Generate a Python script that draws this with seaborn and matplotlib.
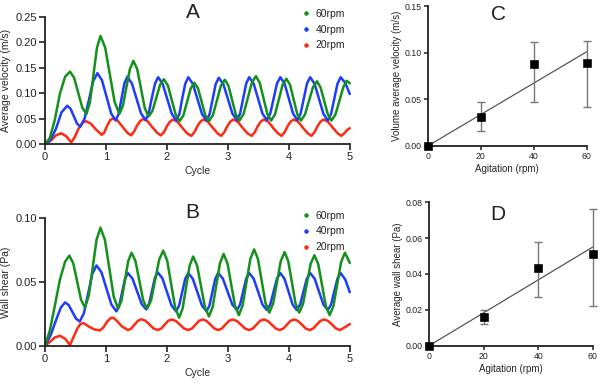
import numpy as np
import pandas as pd
import matplotlib
matplotlib.use("Agg")
import matplotlib.pyplot as plt
from matplotlib.lines import Line2D
import seaborn as sns

# ---------------- data ----------------
labels = ["60rpm", "40rpm", "20rpm"]
colors = ["#14911a", "#1e3cff", "#ff2a12"]

# Panel A: average velocity (m/s) vs cycle
vel60_x = [0, 0.08, 0.16, 0.245, 0.33, 0.41, 0.4775, 0.545, 0.6125, 0.68, 0.7375, 0.795, 0.8525, 0.91,
           0.9875, 1.065, 1.1425, 1.22, 1.2775, 1.335, 1.3925, 1.45, 1.5125, 1.575, 1.6375, 1.70,
           1.7625, 1.825, 1.8875, 1.95, 2.015, 2.08, 2.145, 2.21, 2.27, 2.33, 2.39, 2.45, 2.51, 2.57,
           2.63, 2.69, 2.755, 2.82, 2.885, 2.95, 3.01, 3.07, 3.13, 3.19, 3.2575, 3.325, 3.3925, 3.46,
           3.5225, 3.585, 3.6475, 3.71, 3.7725, 3.835, 3.8975, 3.96, 4.02, 4.08, 4.14, 4.20, 4.265,
           4.33, 4.395, 4.46, 4.52, 4.58, 4.64, 4.70, 4.765, 4.83, 4.895, 4.95, 5.0]
vel60_y = [0, 0.012, 0.047, 0.099, 0.132, 0.142, 0.130, 0.1005, 0.071, 0.059, 0.082, 0.1355, 0.189, 0.212,
           0.189, 0.1355, 0.082, 0.059, 0.075, 0.111, 0.147, 0.163, 0.147, 0.1085, 0.070, 0.054,
           0.065, 0.0905, 0.116, 0.127, 0.115, 0.086, 0.057, 0.045, 0.056, 0.0825, 0.109, 0.120, 0.109, 0.0825,
           0.056, 0.045, 0.057, 0.0855, 0.114, 0.126, 0.114, 0.086, 0.058, 0.046, 0.059, 0.0895, 0.120, 0.133,
           0.120, 0.0895, 0.059, 0.046, 0.058, 0.087, 0.116, 0.128, 0.116, 0.087, 0.058, 0.046, 0.058,
           0.0845, 0.111, 0.123, 0.111, 0.0845, 0.058, 0.046, 0.058, 0.085, 0.112, 0.124, 0.119]

vel40_x = [0, 0.09, 0.18, 0.27, 0.365, 0.419, 0.4725, 0.526, 0.58, 0.65, 0.72, 0.79, 0.86, 0.935, 1.01,
           1.085, 1.16, 1.2075, 1.255, 1.3025, 1.35, 1.425, 1.5, 1.575, 1.65, 1.70, 1.75, 1.805, 1.855,
           1.93, 2.005, 2.08, 2.155, 2.205, 2.25, 2.30, 2.35, 2.425, 2.50, 2.575, 2.65, 2.70, 2.75, 2.80,
           2.85, 2.925, 3.0, 3.075, 3.15, 3.20, 3.25, 3.30, 3.35, 3.4225, 3.495, 3.5675, 3.64, 3.695,
           3.75, 3.805, 3.86, 3.93, 4.0, 4.07, 4.14, 4.1925, 4.245, 4.2975, 4.35, 4.4225, 4.495, 4.5675,
           4.64, 4.6925, 4.745, 4.7975, 4.85, 4.925, 5.0]
vel40_y = [0, 0.008, 0.030, 0.062, 0.075, 0.069, 0.0545, 0.040, 0.034, 0.050, 0.0865, 0.123, 0.139, 0.125, 0.0925,
           0.060, 0.046, 0.059, 0.089, 0.119, 0.132, 0.119, 0.0895, 0.060, 0.047, 0.0595, 0.089, 0.1185, 0.131,
           0.118, 0.0885, 0.059, 0.046, 0.059, 0.0885, 0.118, 0.131, 0.118, 0.0885, 0.059, 0.046, 0.0585, 0.088, 0.1175,
           0.130, 0.1175, 0.0885, 0.0595, 0.047, 0.0595, 0.089, 0.1185, 0.131, 0.1185, 0.089, 0.0595, 0.047, 0.0595,
           0.089, 0.1185, 0.131, 0.1185, 0.089, 0.0595, 0.047, 0.0595, 0.089, 0.1185, 0.131, 0.118, 0.0885, 0.059,
           0.046, 0.059, 0.0885, 0.118, 0.131, 0.120, 0.098]

vel20_x = [0, 0.09, 0.18, 0.27, 0.35, 0.43, 0.49, 0.55, 0.61, 0.67, 0.75, 0.84, 0.93, 0.97, 1.02, 1.07, 1.12,
           1.19, 1.27, 1.35, 1.41, 1.46, 1.51, 1.56, 1.61, 1.68, 1.76, 1.84, 1.90, 1.95, 2.00, 2.05, 2.10,
           2.17, 2.25, 2.33, 2.40, 2.45, 2.50, 2.55, 2.60, 2.67, 2.75, 2.83, 2.89, 2.94, 2.99, 3.04, 3.09,
           3.16, 3.24, 3.32, 3.39, 3.44, 3.49, 3.54, 3.59, 3.66, 3.74, 3.82, 3.88, 3.93, 3.98, 4.03, 4.08,
           4.15, 4.23, 4.31, 4.37, 4.42, 4.47, 4.52, 4.57, 4.64, 4.72, 4.80, 4.86, 4.91, 4.96, 5.0]
vel20_y = [0, 0.006, 0.017, 0.021, 0.015, 0.003, 0.014, 0.030, 0.041, 0.045, 0.040, 0.028, 0.018, 0.022, 0.036, 0.047, 0.050,
           0.046, 0.034, 0.022, 0.017, 0.024, 0.036, 0.045, 0.049, 0.045, 0.033, 0.022, 0.017, 0.023, 0.035, 0.044, 0.048,
           0.044, 0.032, 0.021, 0.016, 0.023, 0.035, 0.044, 0.048, 0.044, 0.032, 0.021, 0.016, 0.023, 0.035, 0.044, 0.048,
           0.044, 0.032, 0.021, 0.016, 0.023, 0.035, 0.044, 0.048, 0.044, 0.032, 0.021, 0.016, 0.023, 0.035, 0.044, 0.048,
           0.044, 0.032, 0.021, 0.016, 0.023, 0.035, 0.044, 0.048, 0.044, 0.032, 0.021, 0.016, 0.021, 0.028, 0.031]

# Panel B: wall shear (Pa) vs cycle
sh60_x = [0, 0.08, 0.16, 0.245, 0.33, 0.40, 0.464, 0.5275, 0.591, 0.655, 0.719, 0.7825, 0.846, 0.91, 0.9825,
          1.055, 1.1275, 1.20, 1.255, 1.31, 1.365, 1.42, 1.484, 1.5475, 1.611, 1.675, 1.741, 1.8075, 1.874,
          1.94, 2.005, 2.07, 2.135, 2.20, 2.2575, 2.315, 2.3725, 2.43, 2.495, 2.56, 2.625, 2.69, 2.75, 2.81,
          2.87, 2.93, 2.9925, 3.055, 3.1175, 3.18, 3.2425, 3.305, 3.3675, 3.43, 3.4925, 3.555, 3.6175, 3.68,
          3.7425, 3.805, 3.8675, 3.93, 3.99, 4.05, 4.11, 4.17, 4.2325, 4.295, 4.3575, 4.42, 4.4825, 4.545,
          4.6075, 4.67, 4.7325, 4.795, 4.8575, 4.92, 5.0]
sh60_y = [0, 0.012, 0.031, 0.052, 0.066, 0.0707, 0.0646, 0.0504, 0.0361, 0.030, 0.0394, 0.0613, 0.0832, 0.0926, 0.0831,
          0.0608, 0.0385, 0.029, 0.0356, 0.051, 0.0664, 0.073, 0.0664, 0.051, 0.0356, 0.029, 0.0358, 0.0518, 0.0678,
          0.0746, 0.0667, 0.0483, 0.0299, 0.022, 0.0292, 0.046, 0.0628, 0.070, 0.063, 0.0465, 0.030, 0.023, 0.0304, 0.0475,
          0.0647, 0.072, 0.0648, 0.048, 0.0312, 0.024, 0.0317, 0.0498, 0.0679, 0.0756, 0.0682, 0.0508, 0.0334, 0.026,
          0.0331, 0.0498, 0.0664, 0.0735, 0.0664, 0.0498, 0.0331, 0.026, 0.0328, 0.0485, 0.0643, 0.071, 0.064, 0.0475,
          0.031, 0.024, 0.0314, 0.0485, 0.0657, 0.073, 0.065]

sh40_x = [0, 0.09, 0.18, 0.26, 0.33, 0.39, 0.45, 0.51, 0.57, 0.639, 0.7075, 0.776, 0.845, 0.926, 1.0075, 1.089,
          1.17, 1.2175, 1.265, 1.3125, 1.36, 1.435, 1.51, 1.585, 1.66, 1.7075, 1.755, 1.8025, 1.85, 1.925, 2.0,
          2.075, 2.15, 2.20, 2.25, 2.30, 2.35, 2.425, 2.50, 2.575, 2.65, 2.6975, 2.745, 2.7925, 2.84, 2.9175,
          2.995, 3.0725, 3.15, 3.20, 3.25, 3.30, 3.35, 3.4225, 3.495, 3.5675, 3.64, 3.695, 3.75, 3.805, 3.86,
          3.9275, 3.995, 4.0625, 4.13, 4.185, 4.24, 4.295, 4.35, 4.4225, 4.495, 4.5675, 4.64, 4.6925, 4.745,
          4.7975, 4.85, 4.925, 5.0]
sh40_y = [0, 0.008, 0.020, 0.030, 0.034, 0.0318, 0.0265, 0.0212, 0.019, 0.0256, 0.041, 0.0564, 0.063, 0.0576, 0.045, 0.0324,
          0.027, 0.0315, 0.042, 0.0525, 0.057, 0.0527, 0.0428, 0.0328, 0.0285, 0.0329, 0.043, 0.0532, 0.0576, 0.053, 0.0423,
          0.0316, 0.027, 0.0315, 0.042, 0.0525, 0.057, 0.0525, 0.042, 0.0315, 0.027, 0.0315, 0.042, 0.0525, 0.057, 0.0527,
          0.0425, 0.0323, 0.028, 0.0323, 0.0425, 0.0527, 0.057, 0.0527, 0.0425, 0.0323, 0.028, 0.0323, 0.0425, 0.0527, 0.057,
          0.0527, 0.0425, 0.0323, 0.028, 0.0323, 0.0425, 0.0527, 0.057, 0.0527, 0.0425, 0.0323, 0.028, 0.0323, 0.0425,
          0.0527, 0.057, 0.052, 0.042]

sh20_x = [0, 0.08, 0.16, 0.245, 0.33, 0.41, 0.47, 0.53, 0.58, 0.63, 0.72, 0.81, 0.90, 0.96, 1.02, 1.08, 1.12,
          1.18, 1.26, 1.36, 1.415, 1.47, 1.525, 1.58, 1.6475, 1.715, 1.7825, 1.85, 1.9075, 1.965, 2.0225, 2.08,
          2.1475, 2.215, 2.2825, 2.35, 2.41, 2.47, 2.53, 2.59, 2.6525, 2.715, 2.7775, 2.84, 2.90, 2.96, 3.02,
          3.08, 3.1475, 3.215, 3.2825, 3.35, 3.41, 3.47, 3.53, 3.59, 3.655, 3.72, 3.785, 3.85, 3.91, 3.97,
          4.03, 4.09, 4.1525, 4.215, 4.2775, 4.34, 4.40, 4.46, 4.52, 4.58, 4.645, 4.71, 4.775, 4.84, 4.92, 5.0]
sh20_y = [0, 0.003, 0.0065, 0.0078, 0.0055, 0.0005, 0.007, 0.0135, 0.017, 0.0178, 0.015, 0.0128, 0.012, 0.0145, 0.019, 0.0218, 0.022,
          0.0195, 0.0152, 0.0123, 0.0135, 0.0166, 0.0196, 0.0208, 0.0196, 0.0166, 0.0135, 0.0123, 0.0135, 0.0166, 0.0196, 0.0206,
          0.0194, 0.0165, 0.0135, 0.0123, 0.0135, 0.0166, 0.0196, 0.0206, 0.0194, 0.0165, 0.0135, 0.0123, 0.0135, 0.0166, 0.0196,
          0.0206, 0.0194, 0.0165, 0.0135, 0.0123, 0.0135, 0.0166, 0.0196, 0.0206, 0.0194, 0.0165, 0.0135, 0.0123, 0.0135, 0.0166,
          0.0196, 0.0206, 0.0194, 0.0165, 0.0135, 0.0123, 0.0135, 0.0166, 0.0196, 0.0206, 0.0194, 0.0165, 0.0135, 0.0123, 0.0145, 0.0170]

# Panel C / D: summary vs agitation
agitation = [0, 20, 40, 60]
vol_vel = [0.0, 0.031, 0.0875, 0.0886]
vol_vel_lo = [0.0, 0.0157, 0.0468, 0.042]
vol_vel_hi = [0.0, 0.047, 0.111, 0.1125]
avg_shear = [0.0, 0.0158, 0.0435, 0.0513]
avg_shear_lo = [0.0, 0.0119, 0.027, 0.0221]
avg_shear_hi = [0.0, 0.0199, 0.0577, 0.0761]

# ---------------- style ----------------
sns.set_theme(style="ticks")
plt.rcParams['font.family'] = ['Liberation Sans', 'DejaVu Sans']
plt.rcParams['axes.linewidth'] = 1.3
plt.rcParams['axes.edgecolor'] = '#222222'
plt.rcParams['xtick.color'] = '#222222'
plt.rcParams['ytick.color'] = '#222222'
plt.rcParams['text.color'] = '#222222'

fig = plt.figure(figsize=(6, 3.85), dpi=100)
axA = fig.add_axes([0.075, 0.626, 0.508, 0.331])
axB = fig.add_axes([0.075, 0.102, 0.508, 0.331])
axC = fig.add_axes([0.713, 0.621, 0.265, 0.363])
axD = fig.add_axes([0.715, 0.102, 0.273, 0.373])


def long_frame(series):
    frames = []
    for lab, xs, ys in series:
        frames.append(pd.DataFrame({"cycle": xs, "value": ys, "rpm": lab}))
    return pd.concat(frames, ignore_index=True)


dfA = long_frame([("60rpm", vel60_x, vel60_y), ("40rpm", vel40_x, vel40_y), ("20rpm", vel20_x, vel20_y)])
dfB = long_frame([("60rpm", sh60_x, sh60_y), ("40rpm", sh40_x, sh40_y), ("20rpm", sh20_x, sh20_y)])

pal = dict(zip(labels, colors))
for ax, df, ylab, ylim, yticks in [
    (axA, dfA, "Average velocity (m/s)", 0.25, [0, 0.05, 0.10, 0.15, 0.20, 0.25]),
    (axB, dfB, "Wall shear (Pa)", 0.10, [0, 0.05, 0.10]),
]:
    sns.lineplot(data=df, x="cycle", y="value", hue="rpm", hue_order=labels[::-1],
                 palette=pal, estimator=None, sort=False, linewidth=1.8, legend=False,
                 ax=ax, clip_on=False)
    ax.set_xlim(0, 5)
    ax.set_ylim(0, ylim)
    ax.set_xticks([0, 1, 2, 3, 4, 5])
    ax.set_yticks(yticks)
    ax.yaxis.set_major_formatter(matplotlib.ticker.FormatStrFormatter('%.2f'))
    ax.set_xlabel("Cycle", fontsize=7.5, labelpad=3)
    ax.set_ylabel(ylab, fontsize=7.5, labelpad=3)
    ax.tick_params(labelsize=8, length=4, width=1.2, pad=2)
    sns.despine(ax=ax)
    handles = [Line2D([], [], marker='o', linestyle='none', markersize=2.2, color=pal[l]) for l in labels]
    ax.legend(handles, labels, loc='upper left', bbox_to_anchor=(0.82, 1.10), frameon=False,
              fontsize=7.5, handletextpad=0.3, labelspacing=0.55, borderpad=0, handlelength=1.2)

for ax, y, lo, hi, ylab, ylim, yticks in [
    (axC, vol_vel, vol_vel_lo, vol_vel_hi, "Volume average velocity (m/s)", 0.15, [0, 0.05, 0.10, 0.15]),
    (axD, avg_shear, avg_shear_lo, avg_shear_hi, "Average wall shear (Pa)", 0.08, [0, 0.02, 0.04, 0.06, 0.08]),
]:
    xa = np.array(agitation, dtype=float)
    ya = np.array(y)
    slope = np.sum(xa * ya) / np.sum(xa * xa)
    fit = pd.DataFrame({"x": [0, 60], "y": [0, slope * 60]})
    sns.lineplot(data=fit, x="x", y="y", color="#555555", linewidth=0.9, ax=ax)
    yerr = [ya - np.array(lo), np.array(hi) - ya]
    ax.errorbar(xa, ya, yerr=yerr, fmt='none', ecolor="#777777", elinewidth=1.0, capsize=3, capthick=1.0,
                clip_on=False)
    sns.scatterplot(x=xa, y=ya, marker='s', s=30, color='black', edgecolor='black', ax=ax, clip_on=False, zorder=5)
    ax.set_xlim(0, 60)
    ax.set_ylim(0, ylim)
    ax.set_xticks([0, 20, 40, 60])
    ax.set_yticks(yticks)
    ax.yaxis.set_major_formatter(matplotlib.ticker.FormatStrFormatter('%.2f'))
    ax.set_xlabel("Agitation (rpm)", fontsize=7, labelpad=2)
    ax.set_ylabel(ylab, fontsize=7, labelpad=2)
    ax.tick_params(labelsize=6.3, length=3, width=1.1, pad=1.5)
    sns.despine(ax=ax)

fig.text(193 / 600, 1 - 13 / 385, "A", fontsize=15, ha='center', va='center')
fig.text(192 / 600, 1 - 213 / 385, "B", fontsize=15, ha='center', va='center')
fig.text(498 / 600, 1 - 14 / 385, "C", fontsize=15, ha='center', va='center')
fig.text(498 / 600, 1 - 215 / 385, "D", fontsize=15, ha='center', va='center')

fig.savefig("out.png", dpi=100)
